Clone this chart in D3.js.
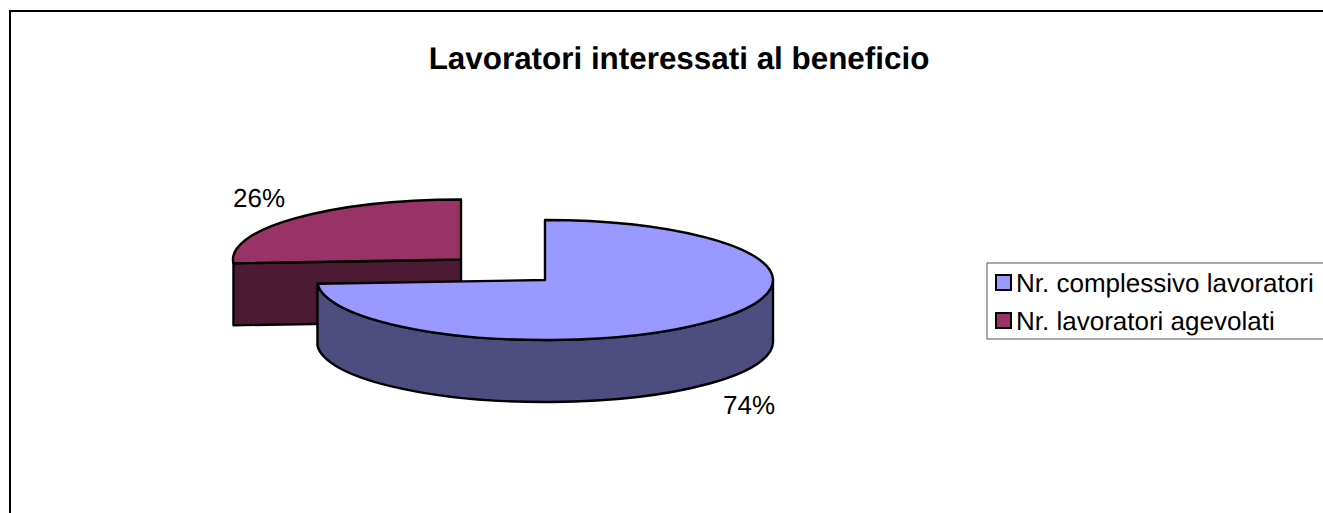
<!DOCTYPE html>
<html><head><meta charset="utf-8">
<script src="https://cdn.jsdelivr.net/npm/d3@7/dist/d3.min.js"></script>
<style>html,body{margin:0;padding:0;background:#fff;overflow:hidden}svg{display:block}text{font-family:"Liberation Sans",Arial,sans-serif;fill:#000;text-rendering:geometricPrecision}</style>
</head><body><svg id="c" width="1323" height="513"></svg>
<script>
const titleText = "Lavoratori interessati al beneficio";
const categories = ["Nr. complessivo lavoratori", "Nr. lavoratori agevolati"];
const values = [74, 26];
const labels = ["74%", "26%"];
const topColors = ["#9999ff", "#993366"];
const sideColors = ["#4d4d80", "#4d1a33"];

const W = 1323, H = 513;
const svg = d3.select("#c");
const rx = 228, ry = 60, depth = 62;
const centers = [[545, 280], [461, 259.5]];
const pie = d3.pie().sort(null).value(d => d);
const arcs = pie(values);
const px = (c, a) => c[0] + rx * Math.sin(a);
const py = (c, a, dz = 0) => c[1] - ry * Math.cos(a) + dz;

function topPath(c, a0, a1) {
  const p = d3.path();
  p.moveTo(c[0], c[1]);
  p.lineTo(px(c, a0), py(c, a0));
  const large = a1 - a0 > Math.PI ? 1 : 0;
  return p.toString() + `A${rx},${ry} 0 ${large} 1 ${px(c, a1)},${py(c, a1)}Z`;
}
function wallPath(c, a0, a1) {
  const large = a1 - a0 > Math.PI ? 1 : 0;
  return `M${px(c, a0)},${py(c, a0)}A${rx},${ry} 0 ${large} 1 ${px(c, a1)},${py(c, a1)}` +
    `L${px(c, a1)},${py(c, a1, depth)}A${rx},${ry} 0 ${large} 0 ${px(c, a0)},${py(c, a0, depth)}Z`;
}
function cutPath(c, a) {
  return `M${px(c, a)},${py(c, a)}L${c[0]},${c[1]}L${c[0]},${c[1] + depth}L${px(c, a)},${py(c, a, depth)}Z`;
}

svg.append("path").attr("d", `M10,${H + 2}V11H${W + 2}`).attr("fill", "none").attr("stroke", "#000").attr("stroke-width", 2);

svg.append("text").attr("x", 679).attr("y", 69).attr("text-anchor", "middle")
  .attr("font-size", 31.4).attr("font-weight", "bold").text(titleText);

const ordered = [1, 0];
ordered.forEach(i => {
  const d = arcs[i], c = centers[i];
  const g = svg.append("g").attr("stroke", "#000").attr("stroke-width", 2.4).attr("stroke-linejoin", "round");
  if (i === 1) {
    g.append("path").attr("d", cutPath(c, d.startAngle)).attr("fill", sideColors[i]);
  } else {
    g.append("path").attr("d", wallPath(c, Math.PI / 2, d.endAngle)).attr("fill", sideColors[i]);
  }
  g.append("path").attr("d", topPath(c, d.startAngle, d.endAngle)).attr("fill", topColors[i]);
});

const labelPos = [[749, 414], [259, 207]];
labels.forEach((t, i) => svg.append("text").attr("x", labelPos[i][0]).attr("y", labelPos[i][1])
  .attr("text-anchor", "middle").attr("font-size", 26).text(t));

const legend = svg.append("g");
legend.append("rect").attr("x", 987).attr("y", 263).attr("width", 340).attr("height", 76)
  .attr("fill", "#fff").attr("stroke", "#555").attr("stroke-width", 1);
const legendY = d3.scalePoint().domain(categories).range([282.5, 320.5]);
categories.forEach((t, i) => {
  const y = legendY(t);
  legend.append("rect").attr("x", 996).attr("y", y - 7.5).attr("width", 15).attr("height", 15)
    .attr("fill", topColors[i]).attr("stroke", "#000").attr("stroke-width", 2);
  legend.append("text").attr("x", 1016).attr("y", y + 9).attr("font-size", 26).text(t);
});
</script></body></html>
